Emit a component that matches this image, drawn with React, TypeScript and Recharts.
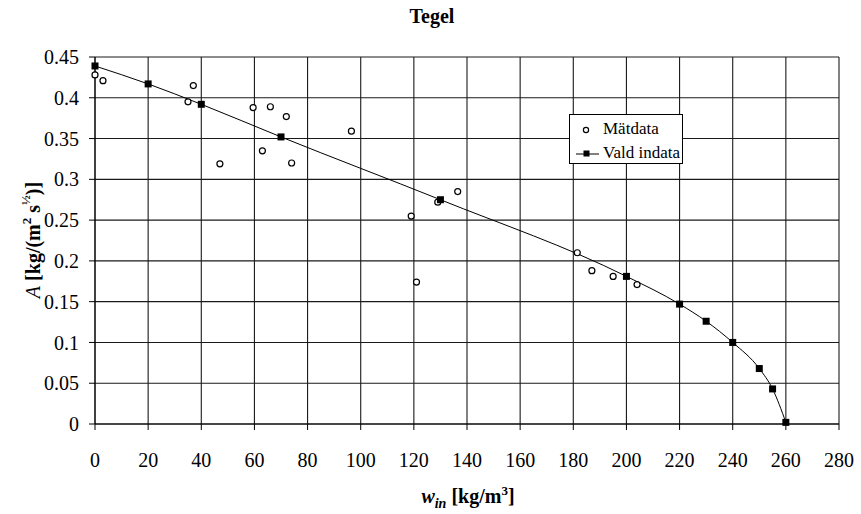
import { ComposedChart, Line, Scatter, XAxis, YAxis, CartesianGrid, Legend } from "recharts";

const FONT = '"Liberation Serif", "Times New Roman", serif';

const X_TICKS = [0, 20, 40, 60, 80, 100, 120, 140, 160, 180, 200, 220, 240, 260, 280];
const Y_TICKS = [0, 0.05, 0.1, 0.15, 0.2, 0.25, 0.3, 0.35, 0.4, 0.45];

// Mätdata (öppna cirklar)
const MAT_X = [0, 3, 35, 37, 47, 59.5, 63, 66, 72, 74, 96.5, 119, 121, 129, 136.5, 181.5, 187, 195, 204];
const MAT_Y = [0.428, 0.421, 0.395, 0.415, 0.319, 0.388, 0.335, 0.389, 0.377, 0.32, 0.359, 0.255, 0.174, 0.272, 0.285, 0.21, 0.188, 0.181, 0.171];

// Vald indata (fyllda kvadrater + linje)
const VALD_X = [0, 20, 40, 70, 130, 200, 220, 230, 240, 250, 255, 260];
const VALD_Y = [0.439, 0.417, 0.392, 0.352, 0.275, 0.181, 0.147, 0.126, 0.1, 0.068, 0.043, 0.002];

const matData = MAT_X.map((x, i) => ({ x, y: MAT_Y[i] }));
const valdData = VALD_X.map((x, i) => ({ x, y: VALD_Y[i] }));

function OpenCircle(props: any) {
  const { cx, cy } = props;
  if (cx == null || cy == null) return null;
  return <circle cx={cx} cy={cy} r={3} fill="#fff" stroke="#000" strokeWidth={1.2} />;
}

function SquareDot(props: any) {
  const { cx, cy, index } = props;
  if (cx == null || cy == null) return null;
  return <rect key={`sq-${index}`} x={cx - 3.5} y={cy - 3.5} width={7} height={7} fill="#000" />;
}

function XTick(props: any) {
  const { x, y, payload } = props;
  return (
    <text x={x} y={y} dy="0.71em" textAnchor="middle" fill="#000" fontSize={20} style={{ fontFamily: FONT }}>
      {String(payload.value)}
    </text>
  );
}

function YTick(props: any) {
  const { x, y, payload } = props;
  return (
    <text x={x} y={y} dy="0.355em" textAnchor="end" fill="#000" fontSize={20} style={{ fontFamily: FONT }}>
      {String(payload.value)}
    </text>
  );
}

function XLabel() {
  return (
    <text x={468} y={503} textAnchor="middle" style={{ fontFamily: FONT }} fontSize={20} fontWeight="bold" fill="#000">
      <tspan fontStyle="italic">w</tspan>
      <tspan fontStyle="italic" fontSize={14} dy={5}>in</tspan>
      <tspan dy={-5}> [kg/m</tspan>
      <tspan fontSize={13} dy={-8}>3</tspan>
      <tspan dy={8}>]</tspan>
    </text>
  );
}

function YLabel() {
  return (
    <text
      x={0}
      y={0}
      transform="translate(40,240) rotate(-90)"
      textAnchor="middle"
      style={{ fontFamily: FONT }}
      fontSize={20}
      fontWeight="bold"
      fill="#000"
    >
      <tspan fontStyle="italic" fontWeight="normal">A</tspan>
      <tspan> [kg/(m</tspan>
      <tspan fontSize={13} dy={-9}>2</tspan>
      <tspan dy={9}> s</tspan>
      <tspan fontSize={13} dy={-10}>½</tspan>
      <tspan dy={10}>)]</tspan>
    </text>
  );
}

function LegendBox() {
  return (
    <div
      style={{
        position: "relative",
        width: 114,
        height: 50,
        boxSizing: "border-box",
        border: "1px solid #000",
        background: "#fff",
        fontFamily: FONT,
        fontSize: 17,
        color: "#000",
      }}
    >
      <svg width={30} height={48} style={{ position: "absolute", left: 0, top: 0 }}>
        <circle cx={16} cy={15} r={2.6} fill="#fff" stroke="#000" strokeWidth={1.2} />
        <line x1={6} y1={39} x2={29} y2={39} stroke="#000" strokeWidth={1} />
        <rect x={13.5} y={35.5} width={6} height={6} fill="#000" />
      </svg>
      <div style={{ position: "absolute", left: 33, top: 4, lineHeight: "20px", whiteSpace: "nowrap" }}>Mätdata</div>
      <div style={{ position: "absolute", left: 33, top: 28, lineHeight: "20px", whiteSpace: "nowrap" }}>Vald indata</div>
    </div>
  );
}

export default function App() {
  return (
    <div style={{ position: "absolute", left: 0, top: 0, width: 861, height: 514, background: "#fff", fontFamily: FONT }}>
      <div
        style={{
          position: "absolute",
          left: 0,
          top: 4,
          width: 864,
          textAlign: "center",
          fontFamily: FONT,
          fontSize: 20,
          fontWeight: "bold",
          lineHeight: "24px",
          color: "#000",
        }}
      >
        Tegel
      </div>
      <ComposedChart
        width={861}
        height={514}
        margin={{ top: 57, right: 22, bottom: 30, left: 0 }}
        style={{ fontFamily: FONT }}
      >
        <CartesianGrid stroke="#1a1a1a" strokeWidth={1.1} />
        <XAxis
          dataKey="x"
          type="number"
          domain={[0, 280]}
          ticks={X_TICKS}
          interval={0}
          height={60}
          tickSize={6}
          tickMargin={23}
          stroke="#000"
          tick={XTick}
          label={<XLabel />}
        />
        <YAxis
          type="number"
          domain={[0, 0.45]}
          ticks={Y_TICKS}
          interval={0}
          width={95}
          tickSize={6}
          tickMargin={10}
          stroke="#000"
          tick={YTick}
          label={<YLabel />}
        />
        <Legend
          layout="vertical"
          align="center"
          verticalAlign="middle"
          content={() => <LegendBox />}
          wrapperStyle={{ position: "absolute", left: 569, top: 114, width: 114, height: 50 }}
        />
        <Line
          data={valdData}
          dataKey="y"
          name="Vald indata"
          type="monotone"
          stroke="#000"
          strokeWidth={1}
          dot={SquareDot}
          activeDot={false}
          isAnimationActive={false}
        />
        <Scatter
          data={matData}
          dataKey="y"
          name="Mätdata"
          shape={OpenCircle}
          isAnimationActive={false}
        />
      </ComposedChart>
    </div>
  );
}
